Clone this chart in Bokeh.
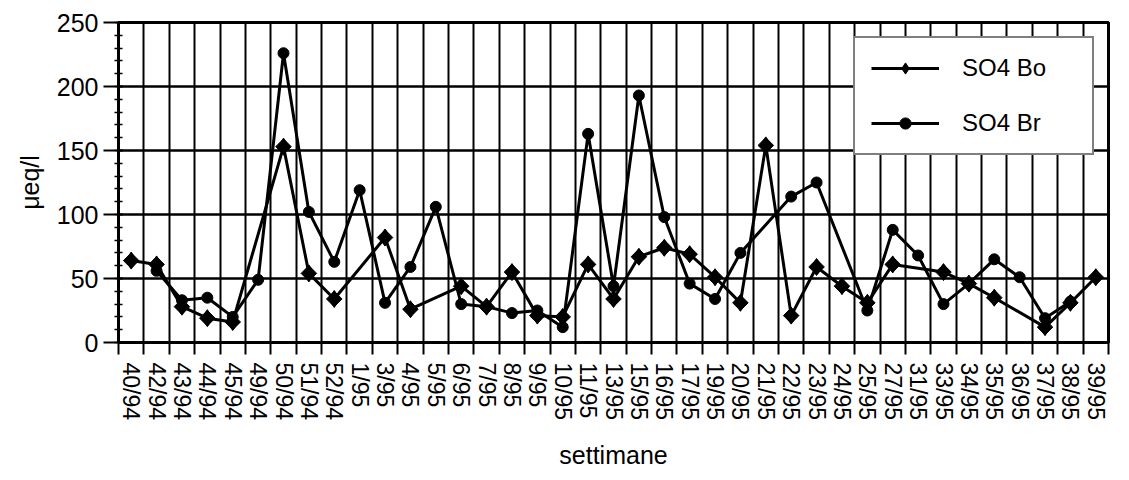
import numpy as np
from bokeh.plotting import figure
from bokeh.models import FixedTicker, Range1d, Legend, LegendItem
from bokeh.embed import file_html
from bokeh.resources import INLINE

# Sampling weeks (week/year)
weeks = ["40/94", "42/94", "43/94", "44/94", "45/94", "49/94", "50/94", "51/94",
         "52/94", "1/95", "3/95", "4/95", "5/95", "6/95", "7/95", "8/95", "9/95",
         "10/95", "11/95", "13/95", "15/95", "16/95", "17/95", "19/95", "20/95",
         "21/95", "22/95", "23/95", "24/95", "25/95", "27/95", "31/95", "33/95",
         "34/95", "35/95", "36/95", "37/95", "38/95", "39/95"]

# Sulphate concentrations (µeq/l); None = no sample that week
so4_bo = [64, 61, 28, 19, 16, None, 153, 54, 34, None, 82, 26, None, 44, 28, 55,
          21, 20, 61, 34, 67, 74, 69, 51, 31, 154, 21, 59, 44, 31, 61, None, 55,
          46, 35, None, 12, 31, 51]
so4_br = [None, 56, 33, 35, 20, 49, 226, 102, 63, 119, 31, 59, 106, 30, 28, 23,
          25, 12, 163, 44, 193, 98, 46, 34, 70, None, 114, 125, None, 25, 88, 68,
          30, 46, 65, 51, 19, 32, None]

y_ticks = [0, 50, 100, 150, 200, 250]
y_minor = list(range(0, 251, 10))

FONT = "Liberation Sans"
n = len(weeks)
centers = [i + 0.5 for i in range(n)]
bounds = list(range(n + 1))

p = figure(width=1129, height=480, x_range=Range1d(0, n), y_range=Range1d(0, 250),
           output_backend="svg", toolbar_location=None,
           min_border_left=118, min_border_right=21, min_border_top=22,
           min_border_bottom=138)
p.background_fill_color = "white"
p.border_fill_color = "white"
p.outline_line_color = "black"
p.outline_line_width = 3

# x axis: labels at week centres, tick marks on the week boundaries
p.xaxis.ticker = FixedTicker(ticks=centers, minor_ticks=bounds)
p.xaxis.major_label_overrides = {c: w for c, w in zip(centers, weeks)}
p.xaxis.major_label_orientation = "vertical"
p.xaxis.major_tick_line_color = None
p.xaxis.major_tick_out = 12
p.xaxis.major_tick_in = 0
p.xaxis.minor_tick_out = 12
p.xaxis.minor_tick_in = 0
p.xaxis.minor_tick_line_color = "black"
p.xaxis.minor_tick_line_width = 2
p.xaxis.major_label_standoff = 8
p.xaxis.major_label_text_font = FONT
p.xaxis.major_label_text_font_size = "23px"
p.xaxis.major_label_text_color = "black"
p.xaxis.axis_label = "settimane"
p.xaxis.axis_label_text_font = FONT
p.xaxis.axis_label_text_font_size = "25px"
p.xaxis.axis_label_text_font_style = "normal"
p.xaxis.axis_label_text_color = "black"
p.xaxis.axis_label_standoff = 18
p.xaxis.axis_line_width = 2.5
p.xaxis.axis_line_color = "black"

# y axis
p.yaxis.ticker = FixedTicker(ticks=y_ticks, minor_ticks=y_minor)
p.yaxis.major_tick_out = 15
p.yaxis.major_tick_in = 4
p.yaxis.major_tick_line_width = 2
p.yaxis.major_tick_line_color = "black"
p.yaxis.minor_tick_out = 4
p.yaxis.minor_tick_in = 4
p.yaxis.minor_tick_line_width = 1.5
p.yaxis.minor_tick_line_color = "black"
p.yaxis.major_label_standoff = 5
p.yaxis.major_label_text_font = FONT
p.yaxis.major_label_text_font_size = "25px"
p.yaxis.major_label_text_color = "black"
p.yaxis.axis_label = "μeq/l"
p.yaxis.axis_label_text_font = FONT
p.yaxis.axis_label_text_font_size = "25px"
p.yaxis.axis_label_text_font_style = "normal"
p.yaxis.axis_label_text_color = "black"
p.yaxis.axis_label_standoff = 10
p.yaxis.axis_line_width = 2.5
p.yaxis.axis_line_color = "black"

# grid
p.xgrid.ticker = FixedTicker(ticks=bounds)
p.xgrid.grid_line_color = "black"
p.xgrid.grid_line_width = 2
p.xgrid.grid_line_alpha = 1
p.ygrid.ticker = FixedTicker(ticks=y_ticks)
p.ygrid.grid_line_color = "black"
p.ygrid.grid_line_width = 2.5
p.ygrid.grid_line_alpha = 1


def present(values):
    xs = [centers[i] for i, v in enumerate(values) if v is not None]
    ys = [v for v in values if v is not None]
    return xs, ys


bo_x, bo_y = present(so4_bo)
br_x, br_y = present(so4_br)

bo_line = p.line(bo_x, bo_y, line_color="black", line_width=3)
# narrow diamonds sit under the rotated squares; they supply the legend key,
# since the legend draws markers unrotated
bo_key = p.scatter(bo_x, bo_y, marker="diamond", size=17,
                   fill_color="black", line_color="black")
bo_pts = p.scatter(bo_x, bo_y, marker="square", angle=np.pi / 4, size=11,
                   fill_color="black", line_color="black")
br_line = p.line(br_x, br_y, line_color="black", line_width=3)
br_pts = p.scatter(br_x, br_y, marker="circle", size=11,
                   fill_color="black", line_color="black")

legend = Legend(items=[LegendItem(label="SO4 Bo", renderers=[bo_line, bo_key]),
                       LegendItem(label="SO4 Br", renderers=[br_line, br_pts])],
                location=(735, 187), orientation="vertical")
legend.label_text_font = FONT
legend.label_text_font_size = "24px"
legend.label_text_color = "black"
legend.glyph_width = 68
legend.glyph_height = 28
legend.padding = 16
legend.spacing = 27
legend.label_standoff = 23
legend.label_width = 114
legend.margin = 0
legend.border_line_color = "black"
legend.border_line_width = 2
legend.background_fill_color = "white"
legend.background_fill_alpha = 1
p.add_layout(legend)

open("out.html", "w").write(file_html(p, INLINE))
